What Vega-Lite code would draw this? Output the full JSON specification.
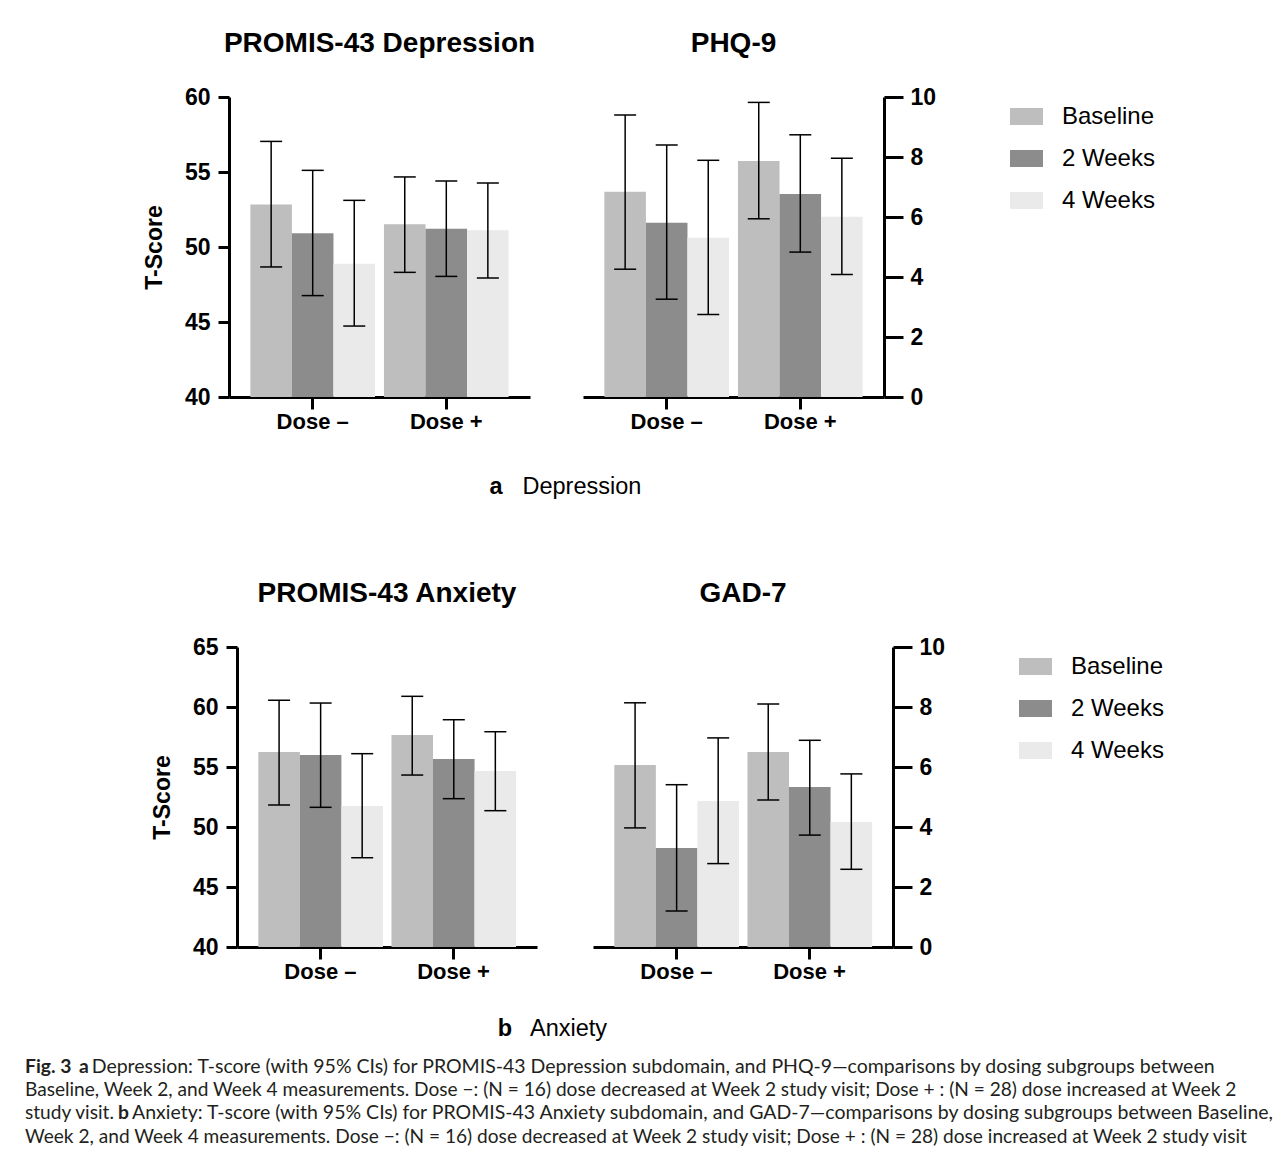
{
  "$schema": "https://vega.github.io/schema/vega-lite/v6.json",
  "background": "white",
  "padding": {"left": 25, "top": 30, "right": 5, "bottom": 0},
  "datasets": {
    "scores": [
      {"panel": "dep", "dose": "Dose –", "time": "Baseline", "mean": 52.84, "lo": 48.67, "hi": 57.04},
      {"panel": "dep", "dose": "Dose –", "time": "2 Weeks", "mean": 50.91, "lo": 46.76, "hi": 55.11},
      {"panel": "dep", "dose": "Dose –", "time": "4 Weeks", "mean": 48.89, "lo": 44.73, "hi": 53.11},
      {"panel": "dep", "dose": "Dose +", "time": "Baseline", "mean": 51.51, "lo": 48.31, "hi": 54.67},
      {"panel": "dep", "dose": "Dose +", "time": "2 Weeks", "mean": 51.22, "lo": 48.04, "hi": 54.4},
      {"panel": "dep", "dose": "Dose +", "time": "4 Weeks", "mean": 51.11, "lo": 47.93, "hi": 54.27},
      {"panel": "phq", "dose": "Dose –", "time": "Baseline", "mean": 6.84, "lo": 4.26, "hi": 9.4},
      {"panel": "phq", "dose": "Dose –", "time": "2 Weeks", "mean": 5.81, "lo": 3.26, "hi": 8.4},
      {"panel": "phq", "dose": "Dose –", "time": "4 Weeks", "mean": 5.31, "lo": 2.75, "hi": 7.89},
      {"panel": "phq", "dose": "Dose +", "time": "Baseline", "mean": 7.87, "lo": 5.94, "hi": 9.82},
      {"panel": "phq", "dose": "Dose +", "time": "2 Weeks", "mean": 6.77, "lo": 4.83, "hi": 8.74},
      {"panel": "phq", "dose": "Dose +", "time": "4 Weeks", "mean": 6.01, "lo": 4.08, "hi": 7.96},
      {"panel": "anx", "dose": "Dose –", "time": "Baseline", "mean": 56.25, "lo": 51.83, "hi": 60.56},
      {"panel": "anx", "dose": "Dose –", "time": "2 Weeks", "mean": 56.0, "lo": 51.64, "hi": 60.33},
      {"panel": "anx", "dose": "Dose –", "time": "4 Weeks", "mean": 51.75, "lo": 47.44, "hi": 56.11},
      {"panel": "anx", "dose": "Dose +", "time": "Baseline", "mean": 57.67, "lo": 54.33, "hi": 60.89},
      {"panel": "anx", "dose": "Dose +", "time": "2 Weeks", "mean": 55.67, "lo": 52.36, "hi": 58.94},
      {"panel": "anx", "dose": "Dose +", "time": "4 Weeks", "mean": 54.67, "lo": 51.36, "hi": 57.94},
      {"panel": "gad", "dose": "Dose –", "time": "Baseline", "mean": 6.07, "lo": 3.97, "hi": 8.14},
      {"panel": "gad", "dose": "Dose –", "time": "2 Weeks", "mean": 3.3, "lo": 1.2, "hi": 5.41},
      {"panel": "gad", "dose": "Dose –", "time": "4 Weeks", "mean": 4.87, "lo": 2.78, "hi": 6.97},
      {"panel": "gad", "dose": "Dose +", "time": "Baseline", "mean": 6.5, "lo": 4.9, "hi": 8.1},
      {"panel": "gad", "dose": "Dose +", "time": "2 Weeks", "mean": 5.33, "lo": 3.73, "hi": 6.89},
      {"panel": "gad", "dose": "Dose +", "time": "4 Weeks", "mean": 4.17, "lo": 2.59, "hi": 5.77}
    ],
    "caption": [
      {"line": 1, "part": "b0", "text": "Fig. 3"},
      {"line": 1, "part": "b1", "text": "a"},
      {"line": 1, "part": "r1", "text": "Depression: T-score (with 95% CIs) for PROMIS-43 Depression subdomain, and PHQ-9—comparisons by dosing subgroups between"},
      {"line": 2, "part": "r0", "text": "Baseline, Week 2, and Week 4 measurements. Dose −: (N = 16) dose decreased at Week 2 study visit; Dose + : (N = 28) dose increased at Week 2"},
      {"line": 3, "part": "r0", "text": "study visit."},
      {"line": 3, "part": "b2", "text": "b"},
      {"line": 3, "part": "r2", "text": "Anxiety: T-score (with 95% CIs) for PROMIS-43 Anxiety subdomain, and GAD-7—comparisons by dosing subgroups between Baseline,"},
      {"line": 4, "part": "r0", "text": "Week 2, and Week 4 measurements. Dose −: (N = 16) dose decreased at Week 2 study visit; Dose + : (N = 28) dose increased at Week 2 study visit"}
    ]
  },
  "spacing": 0,
  "bounds": "full",
  "resolve": {"scale": {"color": "independent"}},
  "vconcat": [
    {
      "spacing": 53,
      "bounds": "flush",
      "hconcat": [
        {"width": 151, "height": 300, "data": {"values": []}, "mark": {"type": "point", "opacity": 0}, "encoding": {}},
        {
          "width": 301, "height": 300,
          "title": {"text": "PROMIS-43 Depression"},
          "data": {"name": "scores"},
          "transform": [{"filter": "datum.panel === 'dep'"}],
          "encoding": {
            "x": {"field": "dose", "type": "nominal", "sort": ["Dose –", "Dose +"], "title": null, "scale": {"paddingInner": 0.067, "paddingOuter": 0.16}},
            "xOffset": {"field": "time", "type": "nominal", "sort": ["Baseline", "2 Weeks", "4 Weeks"], "scale": {"paddingInner": 0, "paddingOuter": 0}}
          },
          "layer": [
            {"mark": {"type": "bar"}, "encoding": {
              "y": {"field": "mean", "type": "quantitative", "scale": {"domain": [40, 60], "zero": false}, "axis": {"orient": "left", "values": [40, 45, 50, 55, 60], "tickSize": 11, "labelPadding": 8, "titlePadding": 18}, "title": "T-Score"},
              "y2": {"datum": 40},
              "color": {"field": "time", "type": "nominal", "sort": ["Baseline", "2 Weeks", "4 Weeks"], "scale": {"domain": ["Baseline", "2 Weeks", "4 Weeks"], "range": ["#bdbebd", "#8c8c8c", "#e9eae9"]}, "legend": {"title": null}}
            }},
            {"mark": {"type": "rule", "strokeWidth": 1.5, "color": "black"}, "encoding": {
              "y": {"field": "lo", "type": "quantitative", "scale": {"domain": [40, 60], "zero": false}, "axis": {"orient": "left", "values": [40, 45, 50, 55, 60], "tickSize": 11, "labelPadding": 8, "titlePadding": 18}, "title": "T-Score"}, "y2": {"field": "hi"}}},
            {"mark": {"type": "tick", "size": 22, "thickness": 1.5, "color": "black", "opacity": 1}, "encoding": {
              "y": {"field": "lo", "type": "quantitative", "scale": {"domain": [40, 60], "zero": false}, "axis": {"orient": "left", "values": [40, 45, 50, 55, 60], "tickSize": 11, "labelPadding": 8, "titlePadding": 18}, "title": "T-Score"}}},
            {"mark": {"type": "tick", "size": 22, "thickness": 1.5, "color": "black", "opacity": 1}, "encoding": {
              "y": {"field": "hi", "type": "quantitative", "scale": {"domain": [40, 60], "zero": false}, "axis": {"orient": "left", "values": [40, 45, 50, 55, 60], "tickSize": 11, "labelPadding": 8, "titlePadding": 18}, "title": "T-Score"}}}
          ]
        },
        {
          "width": 301, "height": 300,
          "title": {"text": "PHQ-9"},
          "data": {"name": "scores"},
          "transform": [{"filter": "datum.panel === 'phq'"}],
          "encoding": {
            "x": {"field": "dose", "type": "nominal", "sort": ["Dose –", "Dose +"], "title": null, "scale": {"paddingInner": 0.067, "paddingOuter": 0.16}},
            "xOffset": {"field": "time", "type": "nominal", "sort": ["Baseline", "2 Weeks", "4 Weeks"], "scale": {"paddingInner": 0, "paddingOuter": 0}}
          },
          "layer": [
            {"mark": {"type": "bar"}, "encoding": {
              "y": {"field": "mean", "type": "quantitative", "scale": {"domain": [0, 10]}, "axis": {"orient": "right", "values": [0, 2, 4, 6, 8, 10], "tickSize": 19, "labelPadding": 7}, "title": null},
              "y2": {"datum": 0},
              "color": {"field": "time", "type": "nominal", "sort": ["Baseline", "2 Weeks", "4 Weeks"], "scale": {"domain": ["Baseline", "2 Weeks", "4 Weeks"], "range": ["#bdbebd", "#8c8c8c", "#e9eae9"]}, "legend": {"title": null}}
            }},
            {"mark": {"type": "rule", "strokeWidth": 1.5, "color": "black"}, "encoding": {
              "y": {"field": "lo", "type": "quantitative", "scale": {"domain": [0, 10]}, "axis": {"orient": "right", "values": [0, 2, 4, 6, 8, 10], "tickSize": 19, "labelPadding": 7}, "title": null}, "y2": {"field": "hi"}}},
            {"mark": {"type": "tick", "size": 22, "thickness": 1.5, "color": "black", "opacity": 1}, "encoding": {
              "y": {"field": "lo", "type": "quantitative", "scale": {"domain": [0, 10]}, "axis": {"orient": "right", "values": [0, 2, 4, 6, 8, 10], "tickSize": 19, "labelPadding": 7}, "title": null}}},
            {"mark": {"type": "tick", "size": 22, "thickness": 1.5, "color": "black", "opacity": 1}, "encoding": {
              "y": {"field": "hi", "type": "quantitative", "scale": {"domain": [0, 10]}, "axis": {"orient": "right", "values": [0, 2, 4, 6, 8, 10], "tickSize": 19, "labelPadding": 7}, "title": null}}}
          ]
        }
      ]
    },
    {
      "width": 975, "height": 146.5,
      "data": {"values": [{"letter": "a", "word": "Depression"}]},
      "layer": [
        {"mark": {"type": "text", "font": "Liberation Sans", "fontSize": 23.5, "fontWeight": "bold", "align": "right", "baseline": "middle", "dx": -10, "dy": -19.75, "color": "black"}, "encoding": {"text": {"field": "letter"}}},
        {"mark": {"type": "text", "font": "Liberation Sans", "fontSize": 23.5, "fontWeight": "normal", "align": "left", "baseline": "middle", "dx": 10, "dy": -19.75, "color": "black"}, "encoding": {"text": {"field": "word"}}}
      ]
    },
    {
      "spacing": 56,
      "bounds": "flush",
      "hconcat": [
        {"width": 156, "height": 300, "data": {"values": []}, "mark": {"type": "point", "opacity": 0}, "encoding": {}},
        {
          "width": 300, "height": 300,
          "title": {"text": "PROMIS-43 Anxiety"},
          "data": {"name": "scores"},
          "transform": [{"filter": "datum.panel === 'anx'"}],
          "encoding": {
            "x": {"field": "dose", "type": "nominal", "sort": ["Dose –", "Dose +"], "title": null, "scale": {"paddingInner": 0.067, "paddingOuter": 0.16}},
            "xOffset": {"field": "time", "type": "nominal", "sort": ["Baseline", "2 Weeks", "4 Weeks"], "scale": {"paddingInner": 0, "paddingOuter": 0}}
          },
          "layer": [
            {"mark": {"type": "bar"}, "encoding": {
              "y": {"field": "mean", "type": "quantitative", "scale": {"domain": [40, 65], "zero": false}, "axis": {"orient": "left", "values": [40, 45, 50, 55, 60, 65], "tickSize": 11, "labelPadding": 8, "titlePadding": 18}, "title": "T-Score"},
              "y2": {"datum": 40},
              "color": {"field": "time", "type": "nominal", "sort": ["Baseline", "2 Weeks", "4 Weeks"], "scale": {"domain": ["Baseline", "2 Weeks", "4 Weeks"], "range": ["#bdbebd", "#8c8c8c", "#e9eae9"]}, "legend": {"title": null}}
            }},
            {"mark": {"type": "rule", "strokeWidth": 1.5, "color": "black"}, "encoding": {
              "y": {"field": "lo", "type": "quantitative", "scale": {"domain": [40, 65], "zero": false}, "axis": {"orient": "left", "values": [40, 45, 50, 55, 60, 65], "tickSize": 11, "labelPadding": 8, "titlePadding": 18}, "title": "T-Score"}, "y2": {"field": "hi"}}},
            {"mark": {"type": "tick", "size": 22, "thickness": 1.5, "color": "black", "opacity": 1}, "encoding": {
              "y": {"field": "lo", "type": "quantitative", "scale": {"domain": [40, 65], "zero": false}, "axis": {"orient": "left", "values": [40, 45, 50, 55, 60, 65], "tickSize": 11, "labelPadding": 8, "titlePadding": 18}, "title": "T-Score"}}},
            {"mark": {"type": "tick", "size": 22, "thickness": 1.5, "color": "black", "opacity": 1}, "encoding": {
              "y": {"field": "hi", "type": "quantitative", "scale": {"domain": [40, 65], "zero": false}, "axis": {"orient": "left", "values": [40, 45, 50, 55, 60, 65], "tickSize": 11, "labelPadding": 8, "titlePadding": 18}, "title": "T-Score"}}}
          ]
        },
        {
          "width": 300, "height": 300,
          "title": {"text": "GAD-7"},
          "data": {"name": "scores"},
          "transform": [{"filter": "datum.panel === 'gad'"}],
          "encoding": {
            "x": {"field": "dose", "type": "nominal", "sort": ["Dose –", "Dose +"], "title": null, "scale": {"paddingInner": 0.067, "paddingOuter": 0.16}},
            "xOffset": {"field": "time", "type": "nominal", "sort": ["Baseline", "2 Weeks", "4 Weeks"], "scale": {"paddingInner": 0, "paddingOuter": 0}}
          },
          "layer": [
            {"mark": {"type": "bar"}, "encoding": {
              "y": {"field": "mean", "type": "quantitative", "scale": {"domain": [0, 10]}, "axis": {"orient": "right", "values": [0, 2, 4, 6, 8, 10], "tickSize": 19, "labelPadding": 7}, "title": null},
              "y2": {"datum": 0},
              "color": {"field": "time", "type": "nominal", "sort": ["Baseline", "2 Weeks", "4 Weeks"], "scale": {"domain": ["Baseline", "2 Weeks", "4 Weeks"], "range": ["#bdbebd", "#8c8c8c", "#e9eae9"]}, "legend": {"title": null}}
            }},
            {"mark": {"type": "rule", "strokeWidth": 1.5, "color": "black"}, "encoding": {
              "y": {"field": "lo", "type": "quantitative", "scale": {"domain": [0, 10]}, "axis": {"orient": "right", "values": [0, 2, 4, 6, 8, 10], "tickSize": 19, "labelPadding": 7}, "title": null}, "y2": {"field": "hi"}}},
            {"mark": {"type": "tick", "size": 22, "thickness": 1.5, "color": "black", "opacity": 1}, "encoding": {
              "y": {"field": "lo", "type": "quantitative", "scale": {"domain": [0, 10]}, "axis": {"orient": "right", "values": [0, 2, 4, 6, 8, 10], "tickSize": 19, "labelPadding": 7}, "title": null}}},
            {"mark": {"type": "tick", "size": 22, "thickness": 1.5, "color": "black", "opacity": 1}, "encoding": {
              "y": {"field": "hi", "type": "quantitative", "scale": {"domain": [0, 10]}, "axis": {"orient": "right", "values": [0, 2, 4, 6, 8, 10], "tickSize": 19, "labelPadding": 7}, "title": null}}}
          ]
        }
      ]
    },
    {
      "width": 992, "height": 70.8,
      "data": {"values": [{"letter": "b", "word": "Anxiety"}]},
      "layer": [
        {"mark": {"type": "text", "font": "Liberation Sans", "fontSize": 23.5, "fontWeight": "bold", "align": "right", "baseline": "middle", "dx": -9, "dy": 10.1, "color": "black"}, "encoding": {"text": {"field": "letter"}}},
        {"mark": {"type": "text", "font": "Liberation Sans", "fontSize": 23.5, "fontWeight": "normal", "align": "left", "baseline": "middle", "dx": 9, "dy": 10.1, "color": "black"}, "encoding": {"text": {"field": "word"}}}
      ]
    },
    {
      "width": 1240, "height": 107.3,
      "data": {"name": "caption"},
      "encoding": {
        "y": {"field": "line", "type": "ordinal", "scale": {"type": "point", "padding": 0.8}, "axis": null},
        "x": {"value": 0},
        "text": {"field": "text"}
      },
      "layer": [
        {"transform": [{"filter": "datum.part === 'r0'"}], "mark": {"type": "text", "font": "Lato", "fontSize": 19.1, "align": "left", "baseline": "alphabetic", "color": "#231f20"}},
        {"transform": [{"filter": "datum.part === 'b0'"}], "mark": {"type": "text", "font": "Lato", "fontSize": 19.3, "fontWeight": "bold", "align": "left", "baseline": "alphabetic", "color": "#231f20"}},
        {"transform": [{"filter": "datum.part === 'b1'"}], "mark": {"type": "text", "font": "Lato", "fontSize": 19.3, "fontWeight": "bold", "align": "left", "baseline": "alphabetic", "dx": 54, "color": "#231f20"}},
        {"transform": [{"filter": "datum.part === 'r1'"}], "mark": {"type": "text", "font": "Lato", "fontSize": 19.5, "align": "left", "baseline": "alphabetic", "dx": 66.7, "color": "#231f20"}},
        {"transform": [{"filter": "datum.part === 'b2'"}], "mark": {"type": "text", "font": "Lato", "fontSize": 19.3, "fontWeight": "bold", "align": "left", "baseline": "alphabetic", "dx": 93, "color": "#231f20"}},
        {"transform": [{"filter": "datum.part === 'r2'"}], "mark": {"type": "text", "font": "Lato", "fontSize": 19.5, "align": "left", "baseline": "alphabetic", "dx": 107, "color": "#231f20"}}
      ]
    }
  ],
  "config": {
    "font": "Liberation Sans",
    "view": {"stroke": null},
    "title": {"font": "Liberation Sans", "fontSize": 28, "fontWeight": "bold", "color": "black", "frame": "group", "anchor": "middle", "baseline": "alphabetic", "offset": 28},
    "axis": {"grid": false, "domainColor": "black", "domainWidth": 3, "tickColor": "black", "tickWidth": 3, "labelFont": "Liberation Sans", "labelFontSize": 23, "labelFontWeight": "bold", "labelColor": "black", "titleFont": "Liberation Sans", "titleFontSize": 23, "titleFontWeight": "bold", "titleColor": "black"},
    "axisX": {"labelAngle": 0, "tickSize": 12, "labelPadding": 2.5, "labelFontSize": 22},
    "legend": {"orient": "right", "offset": 71, "padding": 3, "symbolType": "M-1,-0.515H1V0.515H-1Z", "symbolSize": 1089, "symbolStrokeWidth": 0, "labelFont": "Liberation Sans", "labelFontSize": 24, "labelColor": "black", "labelOffset": 19, "rowPadding": 13}
  }
}
